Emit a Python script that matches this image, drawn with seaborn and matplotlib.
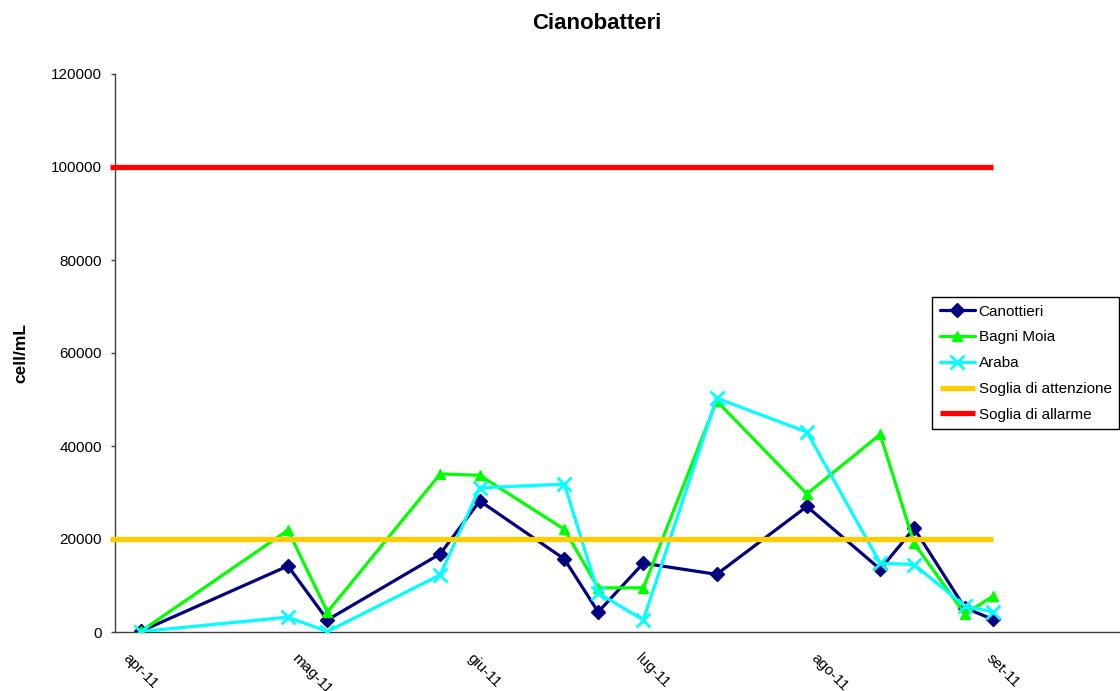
import matplotlib
matplotlib.use("Agg")
import matplotlib.pyplot as plt
import matplotlib.dates as mdates
import pandas as pd
import seaborn as sns

# Sampling dates and cell counts (cell/mL) for each site
sample_dates = ["2011-04-03", "2011-04-29", "2011-05-06", "2011-05-26", "2011-06-02",
                "2011-06-17", "2011-06-23", "2011-07-01", "2011-07-14", "2011-07-30",
                "2011-08-12", "2011-08-18", "2011-08-27", "2011-09-01"]
canottieri = [200, 14200, 2600, 16800, 28200, 15700, 4300, 14800, 12400, 27000,
              13500, 22300, 5200, 2700]
bagni_moia = [200, 21900, 4300, 34000, 33700, 22100, 9500, 9500, 49700, 29700,
              42500, 19100, 3900, 7700]
araba = [100, 3200, 100, 12300, 31000, 31800, 8400, 2600, 50300, 43000,
         14800, 14500, 5600, 4300]

# Alert thresholds
soglia_attenzione = 20000
soglia_allarme = 100000
threshold_dates = ["2011-03-28 12:00", "2011-09-01 00:00"]

month_ticks = ["2011-04-01", "2011-05-01", "2011-06-01", "2011-07-01", "2011-08-01", "2011-09-01"]
month_labels = ["apr-11", "mag-11", "giu-11", "lug-11", "ago-11", "set-11"]
y_ticks = [0, 20000, 40000, 60000, 80000, 100000, 120000]

sns.set_theme(style="white")
plt.rcParams["font.family"] = ["Liberation Sans", "DejaVu Sans"]
plt.rcParams.update({"text.color": "black", "axes.labelcolor": "black",
                     "xtick.color": "black", "ytick.color": "black"})

W, H = 1120, 691
fig = plt.figure(figsize=(W / 100, H / 100), dpi=100)
ax_left, ax_right, ax_top, ax_bottom = 115, 1160, 74, 632
ax = fig.add_axes([ax_left / W, 1 - ax_bottom / H,
                   (ax_right - ax_left) / W, (ax_bottom - ax_top) / H])

df = pd.DataFrame({
    "data": pd.to_datetime(sample_dates),
    "Canottieri": canottieri,
    "Bagni Moia": bagni_moia,
    "Araba": araba,
})

series_style = [
    ("Canottieri", "#000080", "D", 7.0, 1.0, 2),
    ("Bagni Moia", "#00FF00", "^", 7.5, 1.0, 3),
    ("Araba", "#00FFFF", "x", 10.5, 2.0, 4),
]
for name, color, marker, ms, mew, z in series_style:
    sns.lineplot(data=df, x="data", y=name, ax=ax, color=color, linewidth=2.3,
                 marker=marker, markersize=ms, markeredgecolor=color,
                 markerfacecolor=color, markeredgewidth=mew, label=name, zorder=z)

thr = pd.DataFrame({"data": pd.to_datetime(threshold_dates, format="%Y-%m-%d %H:%M")})
for name, value, color, z in [("Soglia di attenzione", soglia_attenzione, "#FFCC00", 5),
                              ("Soglia di allarme", soglia_allarme, "#FF0000", 6)]:
    thr["valore"] = [value] * len(thr)
    sns.lineplot(data=thr, x="data", y="valore", ax=ax, color=color, linewidth=3.8,
                 label=name, zorder=z)
    ax.lines[-1].set_clip_on(False)
    ax.lines[-1].set_solid_capstyle("butt")

start = mdates.date2num(pd.Timestamp("2011-04-01"))
ax.set_xlim(start - 2.66, start + 182.6)
ax.set_ylim(0, 120000)

ax.set_xticks(mdates.date2num(pd.to_datetime(month_ticks)))
ax.set_xticklabels(month_labels, rotation=-45, ha="left", va="top",
                   rotation_mode="anchor", fontsize=11)
ax.tick_params(axis="x", length=0, pad=13.5)

ax.set_yticks(y_ticks)
ax.set_yticklabels([str(v) for v in y_ticks], fontsize=11)
ax.tick_params(axis="y", left=True, length=3, width=1, color="#404040", pad=6.5)

for side in ["top", "right"]:
    ax.spines[side].set_visible(False)
for side in ["left", "bottom"]:
    ax.spines[side].set_color("#404040")
    ax.spines[side].set_linewidth(1.0)

ax.set_xlabel("")
ax.set_ylabel("cell/mL", fontsize=12.5, fontweight="bold", color="black")
ax.yaxis.set_label_coords((28 - ax_left) / (ax_right - ax_left), 0.5)

fig.text(596.5 / W, 1 - 29 / H, "Cianobatteri", ha="center", va="baseline",
         fontsize=16, fontweight="bold", color="black")

leg = ax.legend(loc="upper left", bbox_to_anchor=(932 / W, 1 - 297 / H),
                bbox_transform=fig.transFigure, borderaxespad=0, fontsize=11,
                frameon=True, fancybox=False, framealpha=1, edgecolor="black",
                handlelength=2.3, handletextpad=0.25, labelspacing=0.77,
                borderpad=0.5, numpoints=1)
leg.get_frame().set_linewidth(1.0)

fig.savefig("out.png", dpi=100)
